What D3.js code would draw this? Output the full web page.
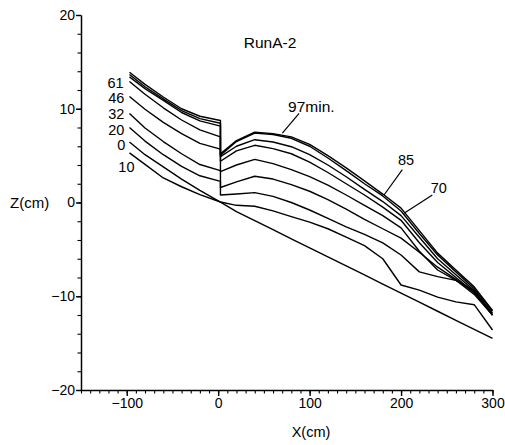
<!DOCTYPE html>
<html><head><meta charset="utf-8">
<script src="https://cdn.jsdelivr.net/npm/d3@7"></script>
<style>
body{margin:0;background:#fff}
svg{display:block}
text{font-family:"Liberation Sans",Arial,Helvetica,sans-serif;fill:#000}
</style>
</head><body>
<svg id="chart" width="505" height="445"></svg>
<script>
// ---- data ----
const xTicks = [-100, 0, 100, 200, 300];
const yTicks = [-20, -10, 0, 10, 20];
const upstreamX = [-97, -80, -60, -40, -20, 2.5];
const downstreamX = [2.5, 20, 40, 60, 80, 100, 120, 140, 160, 180, 200, 220, 240, 260, 280, 300];
const timeLabels = ["97", "85", "70", "61", "46", "32", "20", "10", "0"];

const up97 = [13.9, 12.6, 11.25, 10.0, 9.2, 8.75];
const dn97 = [5.2, 6.6, 7.5, 7.35, 7.0, 6.2, 5.0, 3.7, 2.3, 0.9, -0.6, -3.0, -5.4, -7.2, -9.0, -11.5];
const up85 = [13.65, 12.35, 11.05, 9.8, 8.95, 8.45];
const dn85 = [5.05, 6.5, 7.4, 7.25, 6.85, 6.0, 4.75, 3.4, 2.0, 0.7, -0.9, -3.3, -5.6, -7.4, -9.2, -11.6];
const up70 = [13.4, 12.15, 10.9, 9.6, 8.7, 8.15];
const dn70 = [4.9, 6.0, 6.7, 6.45, 5.95, 5.1, 4.0, 2.75, 1.4, 0.1, -1.4, -3.7, -6.0, -7.7, -9.4, -11.8];
const up61 = [12.9, 11.55, 10.1, 8.8, 7.75, 7.0];
const dn61 = [4.4, 5.5, 6.1, 5.75, 5.2, 4.3, 3.2, 2.0, 0.8, -0.5, -1.9, -4.3, -6.4, -8.0, -9.6, -12.0];
const up46 = [11.3, 9.95, 8.55, 7.35, 6.3, 5.7];
const dn46 = [3.3, 4.0, 4.6, 4.15, 3.5, 2.75, 1.85, 0.8, -0.3, -1.4, -2.7, -5.2, -7.2, -8.3, -9.8, -12.0];
const up32 = [9.5, 7.95, 6.5, 5.2, 4.05, 3.4];
const dn32 = [1.6, 2.2, 2.8, 2.5, 1.9, 1.2, 0.3, -0.7, -1.8, -2.8, -3.8, -5.3, -6.9, -8.2, -9.6, -12.0];
const up20 = [8.0, 6.55, 5.1, 3.85, 2.85, 2.25];
const dn20 = [0.8, 0.9, 1.05, 0.65, 0.0, -0.8, -1.7, -2.6, -3.4, -4.3, -5.6, -7.4, -7.9, -8.3, -9.4, -12.0];
const up10 = [6.45, 5.1, 3.8, 2.5, 1.3, 0.05];
const dn10 = [0.05, -0.3, -0.4, -0.9, -1.5, -2.1, -2.8, -3.7, -4.6, -6.0, -8.8, -9.35, -10.1, -10.6, -10.9, -13.6];
const up0 = [5.3, 4.07, 2.62, 1.68, 0.84, 0.05];
const dn0 = [0.05, -0.97, -1.93, -2.9, -3.87, -4.83, -5.8, -6.77, -7.73, -8.7, -9.67, -10.63, -11.6, -12.57, -13.53, -14.5];

const upstreamZ = [up97, up85, up70, up61, up46, up32, up20, up10, up0];
const downstreamZ = [dn97, dn85, dn70, dn61, dn46, dn32, dn20, dn10, dn0];

// annotation texts (data-unit anchors)
const annTexts = ["61", "46", "32", "20", "0", "10", "97min.", "85", "70"];
const annX = [-103.5, -102.5, -102.5, -102.5, -101.5, -91.5, 76.5, 196.7, 232.5];
const annZ = [12.2, 10.6, 8.9, 7.2, 5.65, 3.3, 9.7, 4.0, 1.05];
const annAnchor = ["end", "end", "end", "end", "end", "end", "start", "start", "start"];
const leaderFrom = [[70.2, 7.4], [181.4, 0.8], [203.3, -1.15]];
const leaderTo = [[88.5, 9.5], [201.4, 3.5], [234.2, 0.8]];

// ---- chart ----
const svg = d3.select("#chart");
const x = d3.scaleLinear().domain([-150, 300]).range([81, 492.5]);
const y = d3.scaleLinear().domain([-20, 20]).range([390, 15]);

const axisStyle = (g, w) => {
  g.selectAll("path,line").attr("stroke", "#000").attr("stroke-width", w);
  g.selectAll("text").attr("font-size", 14).attr("fill", "#000").style("font-family", '"Liberation Sans",Arial,sans-serif');
};

// minor ticks
svg.append("g").attr("transform", `translate(0,${y(-20)})`)
  .call(d3.axisBottom(x).tickValues(d3.range(-150, 301, 10)).tickSize(3.5).tickSizeOuter(0).tickFormat(""))
  .call(axisStyle, 1.1);
svg.append("g").attr("transform", `translate(${x(-150)},0)`)
  .call(d3.axisLeft(y).tickValues(d3.range(-20, 21, 2)).tickSize(3.5).tickSizeOuter(0).tickFormat(""))
  .call(axisStyle, 1.1);
// major ticks
svg.append("g").attr("transform", `translate(0,${y(-20)})`)
  .call(d3.axisBottom(x).tickValues(xTicks).tickSize(6).tickSizeOuter(0).tickPadding(2).tickFormat(d3.format("d")))
  .call(axisStyle, 1.4);
svg.append("g").attr("transform", `translate(${x(-150)},0)`)
  .call(d3.axisLeft(y).tickValues(yTicks).tickSize(5).tickSizeOuter(0).tickPadding(1).tickFormat(d3.format("d")))
  .call(axisStyle, 1.4);

// profiles
const line = d3.line().x(d => x(d[0])).y(d => y(d[1]));
timeLabels.forEach((t, i) => {
  const pts = upstreamX.map((xv, j) => [xv, upstreamZ[i][j]])
    .concat(downstreamX.map((xv, j) => [xv, downstreamZ[i][j]]));
  svg.append("path").datum(pts).attr("d", line)
    .attr("fill", "none").attr("stroke", "#000").attr("stroke-width", 1.4)
    .attr("stroke-linejoin", "round");
});

// leaders
leaderFrom.forEach((f, i) => {
  svg.append("line")
    .attr("x1", x(f[0])).attr("y1", y(f[1]))
    .attr("x2", x(leaderTo[i][0])).attr("y2", y(leaderTo[i][1]))
    .attr("stroke", "#000").attr("stroke-width", 1.2);
});

// annotations
annTexts.forEach((t, i) => {
  svg.append("text").attr("x", x(annX[i])).attr("y", y(annZ[i]))
    .attr("text-anchor", annAnchor[i]).attr("font-size", t === "97min." ? 15.5 : 14.5).text(t);
});

svg.append("text").attr("x", 270).attr("y", 48).attr("text-anchor", "middle").attr("font-size", 15.5).text("RunA-2");
svg.append("text").attr("x", 10).attr("y", 208).attr("font-size", 15).text("Z(cm)");
svg.append("text").attr("x", 311).attr("y", 437).attr("text-anchor", "middle").attr("font-size", 14.5).text("X(cm)");
</script>
</body></html>
